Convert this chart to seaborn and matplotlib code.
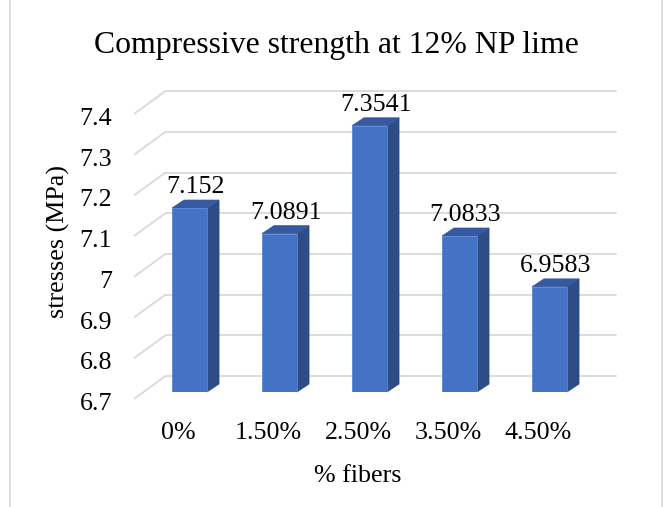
import matplotlib
matplotlib.use("Agg")
import matplotlib.pyplot as plt
import seaborn as sns
from matplotlib.patches import Polygon
from matplotlib.lines import Line2D

# ---- data ----
categories = ["0%", "1.50%", "2.50%", "3.50%", "4.50%"]
values = [7.152, 7.0891, 7.3541, 7.0833, 6.9583]
value_labels = ["7.152", "7.0891", "7.3541", "7.0833", "6.9583"]
yticks = [6.7, 6.8, 6.9, 7.0, 7.1, 7.2, 7.3, 7.4]
ytick_labels = ["6.7", "6.8", "6.9", "7", "7.1", "7.2", "7.3", "7.4"]
title = "Compressive strength at 12% NP lime"
xlabel = "% fibers"
ylabel = "stresses (MPa)"

# ---- style ----
W, H, DPI = 666, 507, 100
sns.set_theme(style="white")
plt.rcParams["font.family"] = ["Liberation Serif", "DejaVu Serif"]
FS = 18.7
FS_TITLE = 22.9
GRID = "#d9d9d9"
FRONT = "#4472C4"
SIDE = "#2E4C85"
TOP = "#3659A0"

fig = plt.figure(figsize=(W / DPI, H / DPI), dpi=DPI)
fig.patch.set_facecolor("white")

# axes = bar plane (pixel coords measured from top)
L, R, B, T = 144.5, 594.5, 392, 60
PX_PER_UNIT = 407.0
ax = fig.add_axes([L / W, (H - B) / H, (R - L) / W, (B - T) / H])
ymin = yticks[0]
ymax = ymin + (B - T) / PX_PER_UNIT

sns.barplot(x=categories, y=values, color=FRONT, saturation=1, width=0.39,
            ax=ax, zorder=3, edgecolor="#5a86d6", linewidth=0.6)
ax.set_xlim(-0.5, len(categories) - 0.5)
ax.set_ylim(ymin, ymax)
ax.axis("off")


def px(x, y, dx=0.0, dy=0.0):
    """data point -> inches in figure (with pixel offsets, dy up)"""
    d = ax.transData.transform((x, y))
    return ((d[0] + dx) / DPI, (d[1] + dy) / DPI)


tr = fig.dpi_scale_trans
BACK = (21, 16)
FRONTP = (-10, -6.5)
DEPTH = (12, 8)

# back wall gridlines and left floor diagonals
x_left, x_right = -0.5, len(categories) - 0.5
for v in yticks:
    a = px(x_left, v, *BACK)
    b = px(x_right, v, *BACK)
    ax.add_line(Line2D([a[0], b[0]], [a[1], b[1]], color=GRID, lw=1.3,
                       transform=tr, clip_on=False, zorder=1))
    f = px(x_left, v, *FRONTP)
    ax.add_line(Line2D([f[0], a[0]], [f[1], a[1]], color=GRID, lw=1.3,
                       transform=tr, clip_on=False, zorder=1))

# 3D sides and tops of bars
for p, lab in zip(ax.patches, value_labels):
    x0 = p.get_x()
    x1 = x0 + p.get_width()
    top = p.get_y() + p.get_height()
    side = [px(x1, ymin), px(x1, top), px(x1, top, *DEPTH), px(x1, ymin, *DEPTH)]
    ax.add_patch(Polygon(side, closed=True, facecolor=SIDE, edgecolor=SIDE,
                         lw=0.5, transform=tr, clip_on=False, zorder=2.9))
    tp = [px(x0, top), px(x1, top), px(x1, top, *DEPTH), px(x0, top, *DEPTH)]
    ax.add_patch(Polygon(tp, closed=True, facecolor=TOP, edgecolor=TOP,
                         lw=0.5, transform=tr, clip_on=False, zorder=2.9))
    c = (x0 + x1) / 2
    lp = px(c, top, 6, 15)
    ax.text(lp[0], lp[1], lab, transform=tr, ha="center", va="baseline",
            fontsize=FS, color="#000000", zorder=5)

# y tick labels (front plane)
for v, lab in zip(yticks, ytick_labels):
    d = ax.transData.transform((x_left, v))
    ax.text(112 / DPI, (d[1] - 18) / DPI, lab, transform=tr, ha="right",
            va="baseline", fontsize=FS, color="#000000")

# x tick labels (front plane)
for i, lab in enumerate(categories):
    d = ax.transData.transform((i, ymin))
    ax.text((d[0] - 11) / DPI, (H - 439) / DPI, lab, transform=tr,
            ha="center", va="baseline", fontsize=FS, color="#000000")

# axis titles and chart title
fig.text(358 / W, (H - 482) / H, xlabel, ha="center", va="baseline",
         fontsize=FS, color="#000000")
fig.text(58 / W, (H - 242) / H, ylabel, ha="center", va="center",
         rotation=90, fontsize=FS, color="#000000")
fig.text(336.5 / W, (H - 53) / H, title, ha="center", va="baseline",
         fontsize=FS_TITLE, color="#000000")

# chart area border
for xb in (10, 662):
    fig.add_artist(Line2D([xb / W, xb / W], [0, 1], color=GRID, lw=1.2,
                          transform=fig.transFigure))

fig.savefig("out.png", dpi=DPI, facecolor="white")
